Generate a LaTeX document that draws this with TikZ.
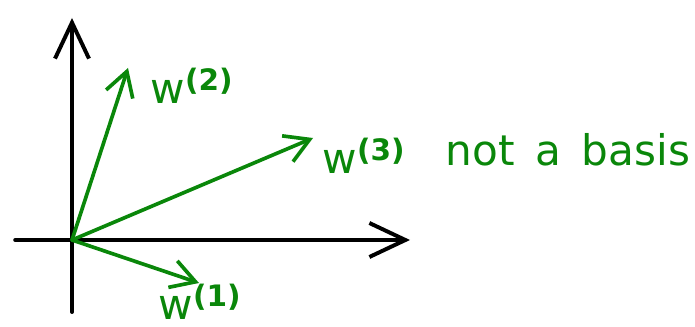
\documentclass[tikz,border=0pt]{standalone}
\usepackage{fontspec}
\setmainfont{DejaVu Sans}
\usetikzlibrary{arrows.meta, positioning}
\definecolor{vecgreen}{HTML}{0A870A}

\begin{document}
\begin{tikzpicture}[
  axis/.style={line width=2.8pt, line cap=round, -{Straight Barb[length=0.9cm, width=0.85cm, line width=2.8pt]}},
  vec/.style={vecgreen, line width=2.6pt, line cap=round, -{Straight Barb[length=0.6cm, width=0.7cm, line width=2.6pt]}},
  lbl/.style={vecgreen, font=\fontsize{30}{32}\selectfont, inner sep=0pt}
]
\useasboundingbox (-1.8, -2.175) rectangle (15.575, 6.0);
% axes
\coordinate (o) at (0, 0);
\coordinate (xl) at (-1.42, 0);
\coordinate (xr) at (8.45, 0);
\coordinate (yb) at (0, -1.8);
\coordinate (yt) at (0, 5.55);
\draw[axis] (xl) -- (xr);
\draw[axis] (yb) -- (yt);
% vectors
\coordinate (w1) at (3.175, -1.075);
\coordinate (w2) at (1.4, 4.3);
\coordinate (w3) at (6.025, 2.55);
\draw[vec] (o) -- (w1);
\draw[vec] (o) -- (w2);
\draw[vec] (o) -- (w3);
% labels
\node[lbl] (lw1) at (3.2, -1.55) {w\textsuperscript{\bfseries(1)}};
\node[lbl] (lw2) at (3.0, 3.85) {w\textsuperscript{\bfseries(2)}};
\node[lbl] (lw3) at (7.3, 2.1) {w\textsuperscript{\bfseries(3)}};
\node[lbl] (note) at (12.4, 2.25) {not\, a\, basis};
\end{tikzpicture}
\end{document}
